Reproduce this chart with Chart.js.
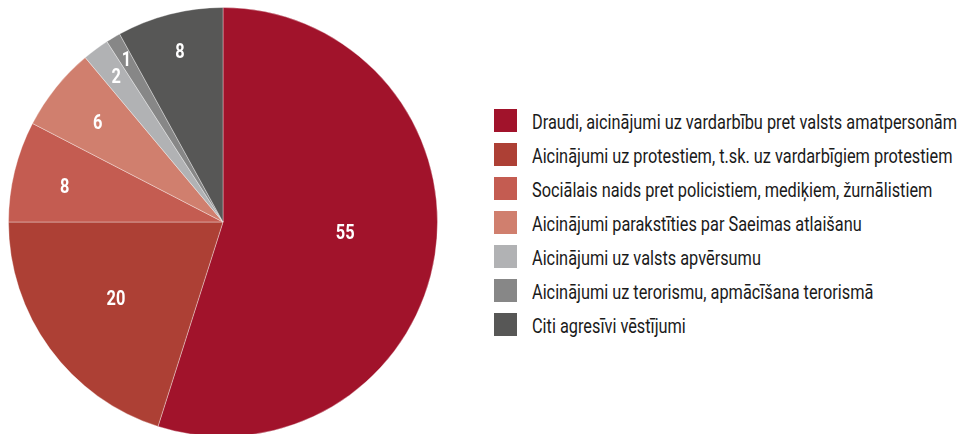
<!DOCTYPE html>
<html>
<head>
<meta charset="utf-8">
<script src="https://cdn.jsdelivr.net/npm/chart.js@4"></script>
<style>
  html, body { margin: 0; padding: 0; background: #fff; width: 963px; height: 434px; overflow: hidden; }
  #pie-box { position: absolute; left: 8px; top: 7px; width: 430px; height: 430px; }
  #legend { position: absolute; left: 494px; top: 103.5px; font-family: Roboto, sans-serif; font-size: 21px; color: #1a1a1a; }
  .legend-item { display: flex; align-items: center; height: 34px; }
  .legend-box { width: 23px; height: 23px; flex: none; }
  .legend-text { margin-left: 15px; white-space: nowrap; display: inline-block; transform-origin: left center; position: relative; top: 1px; }
</style>
</head>
<body>
<div id="pie-box"><canvas id="chart" width="430" height="430"></canvas></div>
<div id="legend"></div>
<script>
const categories = [
  "Draudi, aicinājumi uz vardarbību pret valsts amatpersonām",
  "Aicinājumi uz protestiem, t.sk. uz vardarbīgiem protestiem",
  "Sociālais naids pret policistiem, mediķiem, žurnālistiem",
  "Aicinājumi parakstīties par Saeimas atlaišanu",
  "Aicinājumi uz valsts apvērsumu",
  "Aicinājumi uz terorismu, apmācīšana terorismā",
  "Citi agresīvi vēstījumi"
];
// shares in %; labels show them rounded
const values = [54.9, 20.1, 7.6, 6.3, 2.0, 1.1, 8.0];
const colors = ["#a1132b", "#ad4035", "#c45c51", "#d07f6e", "#b1b2b4", "#878787", "#575756"];

// label placement per slice (fraction of radius, angle shift in degrees)
const labelRadius = [0.572, 0.613, 0.757, 0.745, 0.84, 0.88, 0.82];
const labelShift = [-3.7, 0.7, -1, -0.3, 0, 0, 0.2];

// the original uses a condensed face; squeeze Roboto horizontally instead
const LABEL_SQUEEZE = 0.78;
const LEGEND_WIDTH = 425; // width of the longest legend line in the original

const sliceLabels = {
  id: "sliceLabels",
  afterDatasetsDraw(chart) {
    const ctx = chart.ctx;
    const meta = chart.getDatasetMeta(0);
    ctx.save();
    ctx.fillStyle = "#ffffff";
    ctx.font = "bold 21px Roboto, sans-serif";
    ctx.textAlign = "center";
    ctx.textBaseline = "middle";
    meta.data.forEach((arc, i) => {
      const p = arc.getProps(["x", "y", "startAngle", "endAngle", "outerRadius"], true);
      const mid = (p.startAngle + p.endAngle) / 2 + labelShift[i] * Math.PI / 180;
      const r = p.outerRadius * labelRadius[i];
      const lx = p.x + Math.cos(mid) * r;
      const ly = p.y + Math.sin(mid) * r;
      ctx.save();
      ctx.translate(lx, ly);
      ctx.scale(LABEL_SQUEEZE, 1);
      ctx.fillText(String(Math.round(values[i])), 0, 1);
      ctx.restore();
    });
    ctx.restore();
  }
};

const chart = new Chart(document.getElementById("chart"), {
  type: "pie",
  data: {
    labels: categories,
    datasets: [{
      data: values,
      backgroundColor: colors,
      borderColor: "rgba(255,255,255,0.35)",
      borderWidth: 1
    }]
  },
  options: {
    responsive: false,
    devicePixelRatio: 1,
    animation: false,
    layout: { padding: 0 },
    plugins: {
      legend: { display: false },
      tooltip: { enabled: false }
    }
  },
  plugins: [sliceLabels]
});

// html legend built from the chart's own legend items
const legendEl = document.getElementById("legend");
const textEls = [];
chart.options.plugins.legend.labels.generateLabels(chart).forEach((item) => {
  const row = document.createElement("div");
  row.className = "legend-item";
  const box = document.createElement("span");
  box.className = "legend-box";
  box.style.background = item.fillStyle;
  const text = document.createElement("span");
  text.className = "legend-text";
  text.textContent = item.text;
  row.appendChild(box);
  row.appendChild(text);
  legendEl.appendChild(row);
  textEls.push(text);
});
const widest = Math.max(...textEls.map((t) => t.getBoundingClientRect().width));
const squeeze = LEGEND_WIDTH / widest;
textEls.forEach((t) => { t.style.transform = `scaleX(${squeeze})`; });
</script>
</body>
</html>
